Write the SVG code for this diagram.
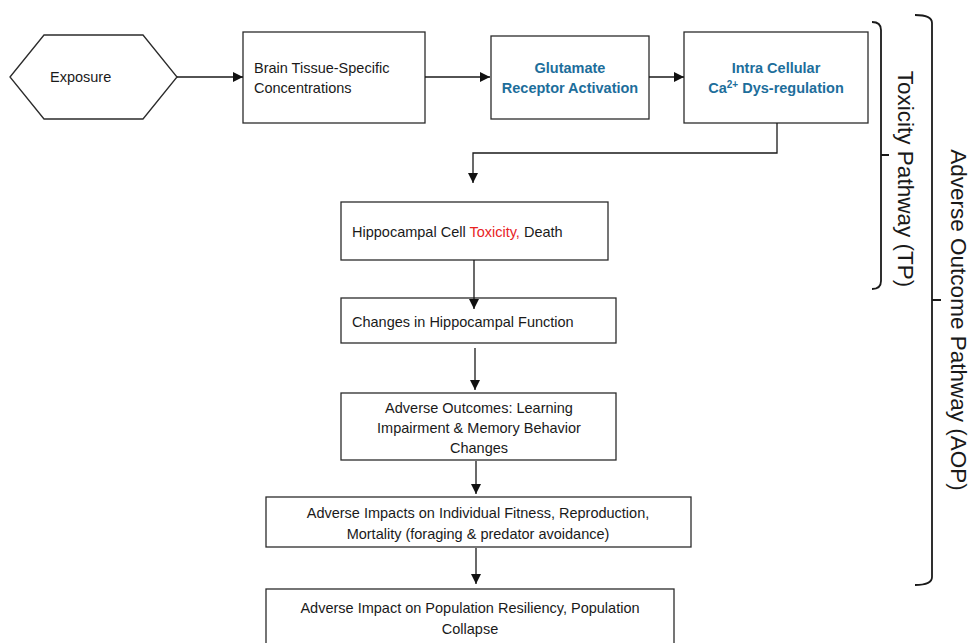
<svg xmlns="http://www.w3.org/2000/svg" width="971" height="643" viewBox="0 0 971 643">
<defs>
<style>
.box{fill:#fff;stroke:#2b2b2b;stroke-width:1.3}
.t{font-family:"Liberation Sans",Arial,sans-serif;font-size:14.5px;fill:#1a1a1a}
.b{font-family:"Liberation Sans",Arial,sans-serif;font-size:14.5px;font-weight:bold;fill:#1d6e9b}
.c{fill:none;stroke:#1a1a1a;stroke-width:1.3}
.br{fill:none;stroke:#1a1a1a;stroke-width:1.8}
.side{font-family:"Liberation Sans",Arial,sans-serif;font-size:22.5px;fill:#1a1a1a}
</style>
<marker id="ah" markerWidth="10" markerHeight="10" refX="10" refY="5" orient="auto" markerUnits="userSpaceOnUse">
<path d="M0,0 L10,5 L0,10 Z" fill="#111"/>
</marker>
</defs>
<rect width="971" height="643" fill="#fff"/>

<g id="exposure">
<polygon class="box" points="10,77 44,35 143,35 177,77 143,119 44,119"/>
<text class="t" x="50" y="82">Exposure</text>
</g>

<g id="brain">
<rect class="box" x="243" y="32" width="182" height="91"/>
<text class="t" x="254" y="73">Brain Tissue-Specific</text>
<text class="t" x="254" y="93">Concentrations</text>
</g>

<g id="glutamate">
<rect class="box" x="491" y="36" width="158" height="83"/>
<text class="b" x="570" y="73" text-anchor="middle">Glutamate</text>
<text class="b" x="570" y="93" text-anchor="middle">Receptor Activation</text>
</g>

<g id="calcium">
<rect class="box" x="684" y="32" width="184" height="91"/>
<text class="b" x="776" y="73" text-anchor="middle">Intra Cellular</text>
<text class="b" x="776" y="93" text-anchor="middle">Ca<tspan font-size="10" dy="-5">2+</tspan><tspan dy="5"> Dys-regulation</tspan></text>
</g>

<g id="hippocampal-cell">
<rect class="box" x="341" y="202" width="267" height="58"/>
<text class="t" x="352" y="237">Hippocampal Cell <tspan fill="#e8231f">Toxicity,</tspan> Death</text>
</g>

<g id="hippocampal-function">
<rect class="box" x="341" y="298" width="275" height="45"/>
<text class="t" x="352" y="327">Changes in Hippocampal Function</text>
</g>

<g id="adverse-outcomes">
<rect class="box" x="341" y="393" width="275" height="67"/>
<text class="t" x="479" y="413" text-anchor="middle">Adverse Outcomes: Learning</text>
<text class="t" x="479" y="433" text-anchor="middle">Impairment &amp; Memory Behavior</text>
<text class="t" x="479" y="453" text-anchor="middle">Changes</text>
</g>

<g id="individual">
<rect class="box" x="266" y="497" width="425" height="50"/>
<text class="t" x="478" y="518" text-anchor="middle">Adverse Impacts on Individual Fitness, Reproduction,</text>
<text class="t" x="478" y="539" text-anchor="middle">Mortality (foraging &amp; predator avoidance)</text>
</g>

<g id="population">
<rect class="box" x="266" y="589" width="408" height="70"/>
<text class="t" x="470" y="613" text-anchor="middle">Adverse Impact on Population Resiliency, Population</text>
<text class="t" x="470" y="634" text-anchor="middle">Collapse</text>
</g>

<g id="connectors">
<path class="c" d="M177,77 H243" marker-end="url(#ah)"/>
<path class="c" d="M425,77 H490" marker-end="url(#ah)"/>
<path class="c" d="M649,77 H684" marker-end="url(#ah)"/>
<path class="c" d="M777,123 V153 H473 V183" marker-end="url(#ah)"/>
<path class="c" d="M474,260 V309" marker-end="url(#ah)"/>
<path class="c" d="M475,348 V390" marker-end="url(#ah)"/>
<path class="c" d="M476,461 V494" marker-end="url(#ah)"/>
<path class="c" d="M476,548 V584" marker-end="url(#ah)"/>
</g>

<g id="tp-bracket">
<path class="br" d="M872,22 Q881,22 881,30 V281 Q881,289 872,289 M881,155 H889"/>
<text class="side" transform="translate(898,179) rotate(90)" text-anchor="middle">Toxicity Pathway (TP)</text>
</g>

<g id="aop-bracket">
<path class="br" d="M915,15 Q932,15 932,23 V577 Q932,585 915,585 M932,300 H941"/>
<text class="side" transform="translate(951,320) rotate(90)" text-anchor="middle">Adverse Outcome Pathway (AOP)</text>
</g>
</svg>
